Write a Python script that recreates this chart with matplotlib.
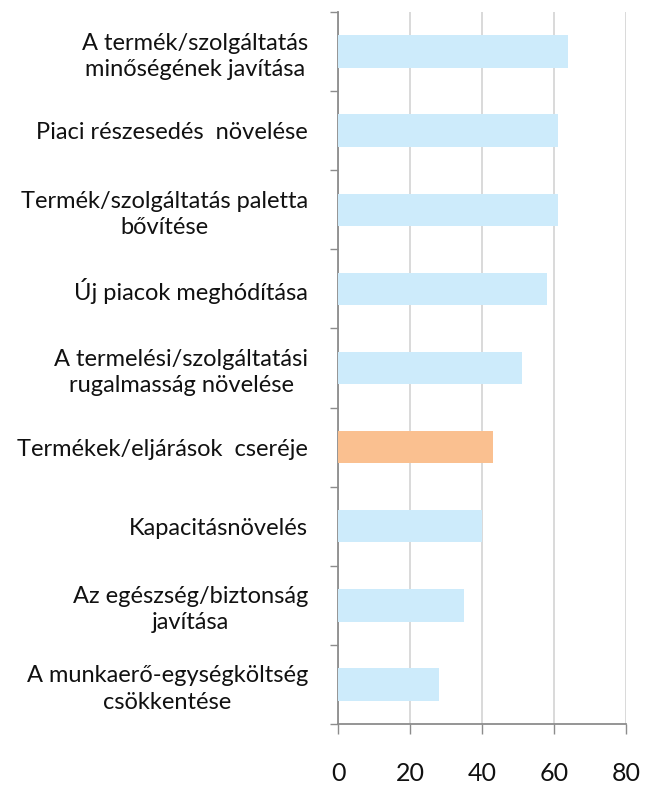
import matplotlib
matplotlib.use("Agg")
import matplotlib.pyplot as plt

categories = [
    "A termék/szolgáltatás\nminőségének javítása",
    "Piaci részesedés  növelése",
    "Termék/szolgáltatás paletta\nbővítése",
    "Új piacok meghódítása",
    "A termelési/szolgáltatási\nrugalmasság növelése",
    "Termékek/eljárások  cseréje",
    "Kapacitásnövelés",
    "Az egészség/biztonság\njavítása",
    "A munkaerő-egységköltség\ncsökkentése",
]
values = [64, 61, 61, 58, 51, 43, 40, 35, 28]
highlight = [False, False, False, False, False, True, False, False, False]
xticks = [0, 20, 40, 60, 80]

blue = "#CDEBFB"
orange = "#FAC090"

plt.rcParams['font.family'] = ['Lato', 'DejaVu Sans']

fig = plt.figure(figsize=(6.45, 7.85), dpi=100)
ax = fig.add_axes([338/645, 1-724/785, (626-338)/645, (724-12)/785])

n = len(categories)
ypos = list(range(n))
colors = [orange if h else blue for h in highlight]
ax.barh(ypos, values, height=0.41, color=colors, zorder=3)

ax.set_xlim(0, 80)
ax.set_ylim(n - 0.5, -0.5)

ax.set_xticks(xticks)
ax.set_xticklabels([str(t) for t in xticks], fontsize=18, color="#111111")
ax.tick_params(axis='x', length=7.5, width=1, color="#8c8c8c", pad=20)
ax.grid(axis='x', color="#d9d9d9", linewidth=1.4, zorder=0)

ax.set_yticks([i - 0.5 for i in range(n + 1)])
ax.set_yticklabels([])
ax.tick_params(axis='y', which='major', length=6, width=1, color="#8c8c8c")
ax.set_yticks(ypos, minor=True)
ax.set_yticklabels(categories, minor=True, fontsize=17, color="#111111", linespacing=1.3)
ax.tick_params(axis='y', which='minor', length=0, pad=21.5)
for lbl in ax.get_yticklabels(minor=True):
    lbl.set_multialignment('center')

for s in ['top', 'right']:
    ax.spines[s].set_visible(False)
ax.spines['left'].set_color("#8c8c8c")
ax.spines['left'].set_linewidth(1.3)
ax.spines['bottom'].set_color("#8c8c8c")
ax.spines['bottom'].set_linewidth(1.3)
ax.spines['bottom'].set_bounds(0, 80)

fig.savefig("out.png", dpi=100)
